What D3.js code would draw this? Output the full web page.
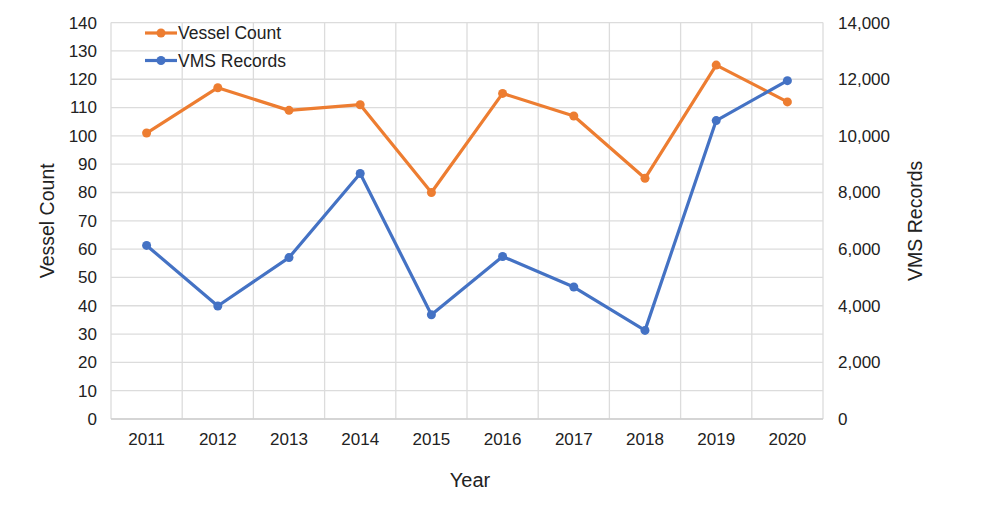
<!DOCTYPE html>
<html>
<head>
<meta charset="utf-8">
<script src="https://cdn.jsdelivr.net/npm/d3@7"></script>
<style>
  body { margin: 0; background: #fff; }
  text { font-family: "Liberation Sans", Arial, sans-serif; fill: #222; }
</style>
</head>
<body>
<div id="chart"></div>
<script>
const years = ["2011", "2012", "2013", "2014", "2015", "2016", "2017", "2018", "2019", "2020"];
const vesselCount = [101, 117, 109, 111, 80, 115, 107, 85, 125, 112];
const vmsRecords = [6130, 3990, 5700, 8670, 3680, 5740, 4660, 3130, 10540, 11950];
const leftTicks = d3.range(0, 141, 10);
const rightTicks = d3.range(0, 14001, 2000);

const W = 1001, H = 514;
const margin = { top: 22.6, right: 178, bottom: 95, left: 111 };
const width = W - margin.left - margin.right;
const height = H - margin.top - margin.bottom;

const svg = d3.select("#chart")
  .append("svg")
  .attr("width", W)
  .attr("height", H);

const g = svg.append("g")
  .attr("transform", `translate(${margin.left},${margin.top})`);

// scales
const x = d3.scaleBand().domain(years).range([0, width]);
const yL = d3.scaleLinear().domain([0, 140]).range([height, 0]);
const yR = d3.scaleLinear().domain([0, 14000]).range([height, 0]);

// grid
g.append("g")
  .selectAll("line")
  .data(leftTicks)
  .join("line")
  .attr("x1", 0).attr("x2", width)
  .attr("y1", d => yL(d)).attr("y2", d => yL(d))
  .attr("stroke", "#dcdcdc")
  .attr("stroke-width", 1.3);

g.append("g")
  .selectAll("line")
  .data(years.concat(["end"]))
  .join("line")
  .attr("x1", (d, i) => i * x.bandwidth()).attr("x2", (d, i) => i * x.bandwidth())
  .attr("y1", 0).attr("y2", height)
  .attr("stroke", "#dcdcdc")
  .attr("stroke-width", 1.3);

// bottom axis line
g.append("line")
  .attr("x1", 0).attr("x2", width)
  .attr("y1", height).attr("y2", height)
  .attr("stroke", "#cfcfcf")
  .attr("stroke-width", 1.5);

// left ticks
g.append("g")
  .selectAll("text")
  .data(leftTicks)
  .join("text")
  .attr("x", -14)
  .attr("y", d => yL(d))
  .attr("dy", "0.35em")
  .attr("text-anchor", "end")
  .style("font-size", "17px")
  .text(d => d);

// right ticks
g.append("g")
  .selectAll("text")
  .data(rightTicks)
  .join("text")
  .attr("x", width + 15)
  .attr("y", d => yR(d))
  .attr("dy", "0.35em")
  .attr("text-anchor", "start")
  .style("font-size", "17px")
  .text(d => d3.format(",")(d));

// x ticks
g.append("g")
  .selectAll("text")
  .data(years)
  .join("text")
  .attr("x", d => x(d) + x.bandwidth() / 2)
  .attr("y", height + 26)
  .attr("text-anchor", "middle")
  .style("font-size", "17px")
  .text(d => d);

// axis titles
g.append("text")
  .attr("x", width / 2 + 3)
  .attr("y", height + 68)
  .attr("text-anchor", "middle")
  .style("font-size", "20px")
  .text("Year");

g.append("text")
  .attr("transform", `translate(${-57},${height / 2}) rotate(-90)`)
  .attr("text-anchor", "middle")
  .style("font-size", "19.5px")
  .text("Vessel Count");

g.append("text")
  .attr("transform", `translate(${width + 99},${height / 2}) rotate(-90)`)
  .attr("text-anchor", "middle")
  .style("font-size", "19.5px")
  .text("VMS Records");

// series
const series = [
  { name: "Vessel Count", values: vesselCount, scale: yL, color: "#ED7D31" },
  { name: "VMS Records", values: vmsRecords, scale: yR, color: "#4472C4" },
];

series.forEach(s => {
  const line = d3.line()
    .x((d, i) => x(years[i]) + x.bandwidth() / 2)
    .y(d => s.scale(d));
  g.append("path")
    .datum(s.values)
    .attr("fill", "none")
    .attr("stroke", s.color)
    .attr("stroke-width", 3.2)
    .attr("stroke-linejoin", "round")
    .attr("d", line);
  g.selectAll(null)
    .data(s.values)
    .join("circle")
    .attr("cx", (d, i) => x(years[i]) + x.bandwidth() / 2)
    .attr("cy", d => s.scale(d))
    .attr("r", 4.5)
    .attr("fill", s.color);
});

// legend
const legend = svg.append("g").attr("transform", "translate(145,33)");
series.forEach((s, i) => {
  const lg = legend.append("g").attr("transform", `translate(0,${i * 27.5})`);
  lg.append("line")
    .attr("x1", 0).attr("x2", 32)
    .attr("stroke", s.color)
    .attr("stroke-width", 3.2);
  lg.append("circle").attr("cx", 16).attr("r", 4.5).attr("fill", s.color);
  lg.append("text")
    .attr("x", 33)
    .attr("dy", "0.35em")
    .style("font-size", "17.5px")
    .text(s.name);
});
</script>
</body>
</html>
